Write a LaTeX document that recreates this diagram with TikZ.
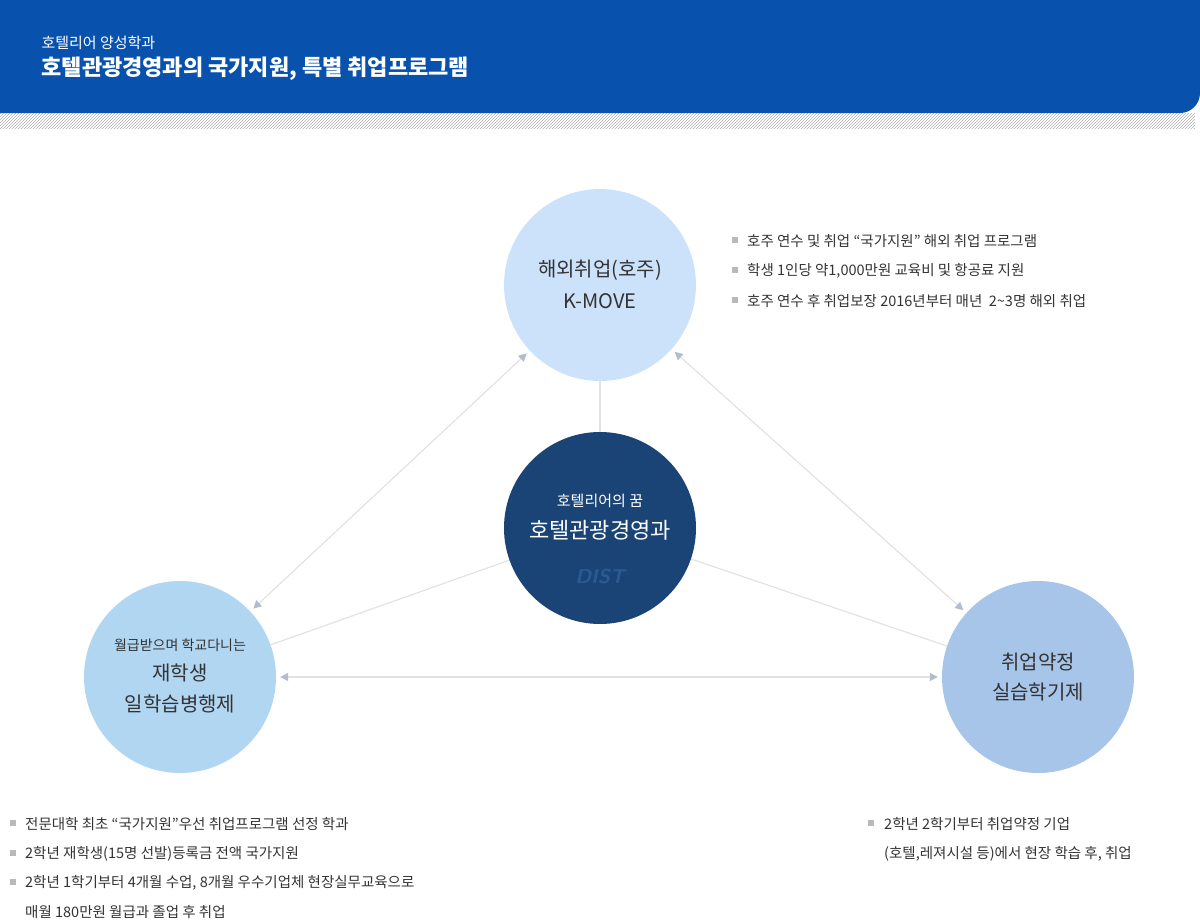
\documentclass[tikz,border=0pt]{standalone}
\usepackage{fontspec}
\setmainfont{Noto Sans CJK KR}
\usetikzlibrary{patterns,arrows.meta}
\definecolor{headblue}{HTML}{0852AD}
\definecolor{topc}{HTML}{CCE2FB}
\definecolor{midc}{HTML}{1B4476}
\definecolor{leftc}{HTML}{B1D6F2}
\definecolor{rightc}{HTML}{A7C5E9}
\definecolor{linec}{HTML}{E2E2E2}
\definecolor{tipc}{HTML}{B3BCCB}
\definecolor{txt}{HTML}{333333}
\definecolor{logoc}{HTML}{2B5A92}
\tikzset{
  bubble/.style={circle, minimum size=192pt, inner sep=0pt, align=center, text=txt},
  spoke/.style={draw=linec, line width=1.2pt},
  link/.style={draw=linec, line width=1.2pt, {Triangle[length=8pt,width=8pt,fill=tipc,color=tipc]}-{Triangle[length=8pt,width=8pt,fill=tipc,color=tipc]}, shorten <=4pt, shorten >=4pt},
  note/.style={anchor=west, inner sep=0pt, text=txt, font=\fontsize{14.5}{16}\selectfont},
}
\newcommand{\bul}[2]{\fill[gray!55] (#1-3,#2-3) rectangle (#1+3,#2+3);}
\begin{document}
\begin{tikzpicture}[x=1pt,y=-1pt]
  \useasboundingbox (0,0) rectangle (1200,921);
  % header
  \fill[pattern=north east lines, pattern color=gray!60] (0,113) rectangle (1195,128);
  \fill[headblue] (0,0) -- (1200,0) -- (1200,93) arc[start angle=0,end angle=-90,radius=20pt] -- (0,113) -- cycle;
  \node[anchor=west, text=white, font=\fontsize{15}{17}\selectfont] (sub) at (38,43) {호텔리어 양성학과};
  \node[anchor=west, text=white, font=\fontsize{22}{24}\selectfont\bfseries] (title) at (38,69) {호텔관광경영과의 국가지원, 특별 취업프로그램};

  % circles
  \node[bubble, fill=topc] (kmove) at (600,285) {};
  \node[bubble, fill=leftc] (work) at (180,677) {};
  \node[bubble, fill=rightc] (intern) at (1038,677) {};
  \path[spoke] (kmove) -- (600,432);
  \path[spoke] (work) -- (600,528);
  \path[spoke] (intern) -- (600,528);
  \node[bubble, fill=midc] (dept) at (600,528) {};

  \path[link] (kmove) -- (work);
  \path[link] (kmove) -- (intern);
  \path[link] (work) -- (intern);

  % circle texts
  \node[font=\fontsize{20}{22}\selectfont, text=txt] at (600,270) {해외취업(호주)};
  \node[font=\fontsize{20}{22}\selectfont, text=txt] at (600,301) {K-MOVE};
  \node[font=\fontsize{15}{17}\selectfont, text=white] at (600,501) {호텔리어의 꿈};
  \node[font=\fontsize{22}{24}\selectfont, text=white] at (600,530) {호텔관광경영과};
  \node[font=\fontsize{20}{22}\selectfont\bfseries\itshape\sffamily, text=logoc] at (600,577) {DIST};
  \node[font=\fontsize{14}{16}\selectfont, text=txt] at (180,645) {월급받으며 학교다니는};
  \node[font=\fontsize{20}{22}\selectfont, text=txt] at (180,673) {재학생};
  \node[font=\fontsize{20}{22}\selectfont, text=txt] at (180,704) {일학습병행제};
  \node[font=\fontsize{20}{22}\selectfont, text=txt] at (1038,662) {취업약정};
  \node[font=\fontsize{20}{22}\selectfont, text=txt] at (1038,692) {실습학기제};

  % notes
  \bul{735}{240} \node[note] (t1) at (747,241) {호주 연수 및 취업 “국가지원” 해외 취업 프로그램};
  \bul{735}{270} \node[note] (t2) at (747,271) {학생 1인당 약1,000만원 교육비 및 항공료 지원};
  \bul{735}{300} \node[note] (t3) at (747,301) {호주 연수 후 취업보장 2016년부터 매년\ \ 2\textasciitilde3명 해외 취업};
  \bul{13}{823} \node[note] (l1) at (25,824) {전문대학 최초 “국가지원”우선 취업프로그램 선정 학과};
  \bul{13}{853} \node[note] (l2) at (25,854) {2학년 재학생(15명 선발)등록금 전액 국가지원};
  \bul{13}{882} \node[note] (l3) at (25,883) {2학년 1학기부터 4개월 수업, 8개월 우수기업체 현장실무교육으로};
  \node[note] (l4) at (25,912) {매월 180만원 월급과 졸업 후 취업};
  \bul{871}{823} \node[note] (r1) at (884,824) {2학년 2학기부터 취업약정 기업};
  \node[note] (r2) at (884,854) {(호텔,레져시설 등)에서 현장 학습 후, 취업};
\end{tikzpicture}
\end{document}
